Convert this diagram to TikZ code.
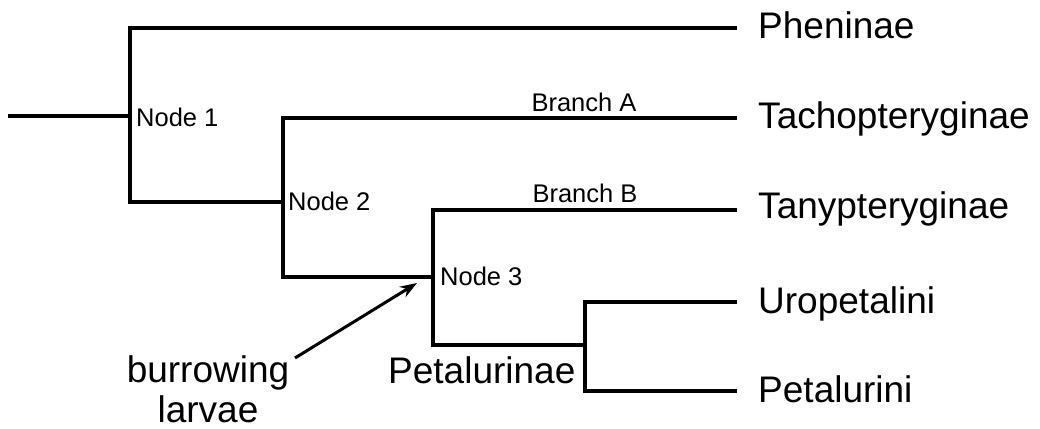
\documentclass[tikz,border=0pt]{standalone}
\usepackage{fontspec}
\setmainfont{Liberation Sans}
\usetikzlibrary{arrows.meta,positioning}

\begin{document}
\begin{tikzpicture}[
  x=1pt, y=-1pt,
  >={Stealth[length=17pt, width=12pt]},
  branch/.style={line width=3.4pt, line cap=rect},
  taxon/.style={font=\fontsize{37}{42}\selectfont, anchor=base west, inner sep=0pt},
  nodelabel/.style={font=\fontsize{25.5}{30}\selectfont, anchor=base west, inner sep=0pt},
  branchlabel/.style={font=\fontsize{25.5}{30}\selectfont, anchor=base, inner sep=0pt},
]
\useasboundingbox (0,0) rectangle (1040,428);

% === Junctions and tips ===
\coordinate (root) at (10,116);
\coordinate (n1) at (130,116);
\coordinate (n2) at (283,202);
\coordinate (n3) at (433,277);
\coordinate (n4) at (585,345);
\coordinate (tipPhen) at (735,28);
\coordinate (tipTach) at (735,118);
\coordinate (tipTany) at (735,210);
\coordinate (tipUro) at (735,302);
\coordinate (tipPet) at (735,391);

% === Tree ===
\draw[branch] (root) -- (n1);
\draw[branch] (n2) -| (n1) |- (tipPhen);
\draw[branch] (n3) -| (n2) |- (tipTach);
\draw[branch] (n4) -| (n3) |- (tipTany);
\draw[branch] (tipUro) -| (n4) |- (tipPet);

% === Taxa ===
\node[taxon] (phen) at (758,39) {Pheninae};
\node[taxon] (tach) at (758,128) {Tachopteryginae};
\node[taxon] (tany) at (758,218) {Tanypteryginae};
\node[taxon] (uro) at (758,313) {Uropetalini};
\node[taxon] (pet) at (758,402) {Petalurini};
\node[taxon] (petal) at (388,383) {Petalurinae};

% === Node and branch labels ===
\node[nodelabel] (lab1) at (136,126) {Node 1};
\node[nodelabel] (lab2) at (288,210) {Node 2};
\node[nodelabel] (lab3) at (440,285) {Node 3};
\node[branchlabel] (brA) at (584,111) {Branch A};
\node[branchlabel] (brB) at (585,202) {Branch B};

% === Burrowing larvae ===
\node[font=\fontsize{37}{40}\selectfont, align=center, anchor=base, inner sep=0pt]
  (burrow) at (208,422) {burrowing\\larvae};
\coordinate (arrowtip) at (417,283);
\draw[->, line width=3pt] (295,358) -- (arrowtip);

\end{tikzpicture}
\end{document}
